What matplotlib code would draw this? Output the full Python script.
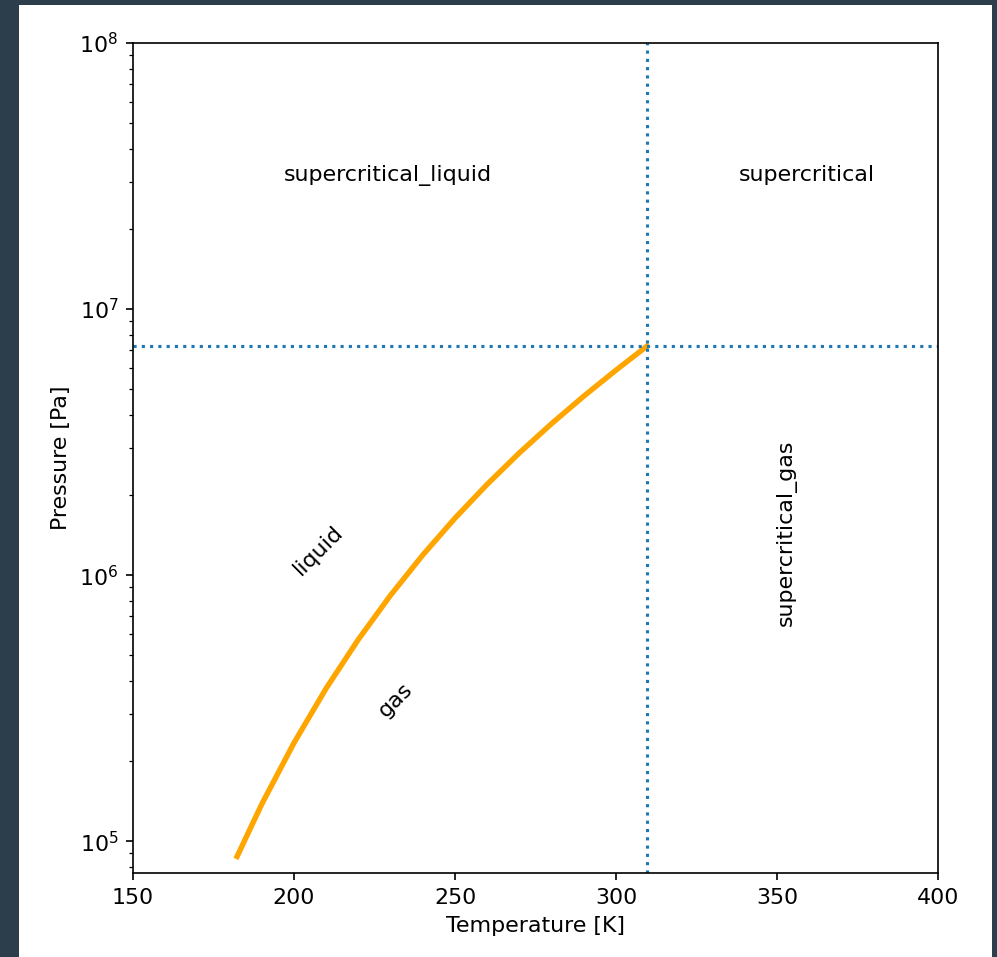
import matplotlib
matplotlib.use("Agg")
import matplotlib.pyplot as plt
from matplotlib.patches import Rectangle

# N2O saturation curve, triple point up to the critical point (T in K, P in Pa)
sat_T = [182.33, 190, 200, 210, 220, 230, 240, 250, 260, 270, 280, 290, 300, 309.57]
sat_P = [8.77e4, 1.380e5, 2.344e5, 3.759e5, 5.738e5, 8.411e5, 1.191e6,
         1.638e6, 2.196e6, 2.882e6, 3.712e6, 4.708e6, 5.896e6, 7.251e6]

T_crit = 309.57
P_crit = 7.251e6

# region labels: text, T, P, rotation
region_names = ["supercritical_liquid", "supercritical", "supercritical_gas", "liquid", "gas"]
region_T = [229.2, 359.3, 352.8, 207.5, 231.4]
region_P = [3.19e7, 3.19e7, 1.44e6, 1.24e6, 3.39e5]
region_rot = [0, 0, 90, 45, 45]

plt.rcParams["font.size"] = 10.6

fig = plt.figure(figsize=(997 / 150, 957 / 150), dpi=150, facecolor="#2c3e4b")
fig.patches.append(Rectangle((19 / 997, 0), 973 / 997, 952 / 957,
                             transform=fig.transFigure, facecolor="white",
                             edgecolor="none", zorder=-10))

ax = fig.add_axes([133 / 997, 1 - 873 / 957, 805 / 997, 830 / 957])
ax.plot(sat_T, sat_P, color="orange", linewidth=2.6)
ax.axvline(T_crit, linestyle=":", color="tab:blue", linewidth=1.5)
ax.axhline(P_crit, linestyle=":", color="tab:blue", linewidth=1.5)

for name, t, p, rot in zip(region_names, region_T, region_P, region_rot):
    ax.text(t, p, name, rotation=rot, ha="center", va="center")

ax.set_yscale("log")
ax.set_xlim(150, 400)
ax.set_ylim(7.6e4, 1e8)
ax.set_xlabel("Temperature [K]")
ax.set_ylabel("Pressure [Pa]")

fig.savefig("out.png", dpi=150, facecolor=fig.get_facecolor())
